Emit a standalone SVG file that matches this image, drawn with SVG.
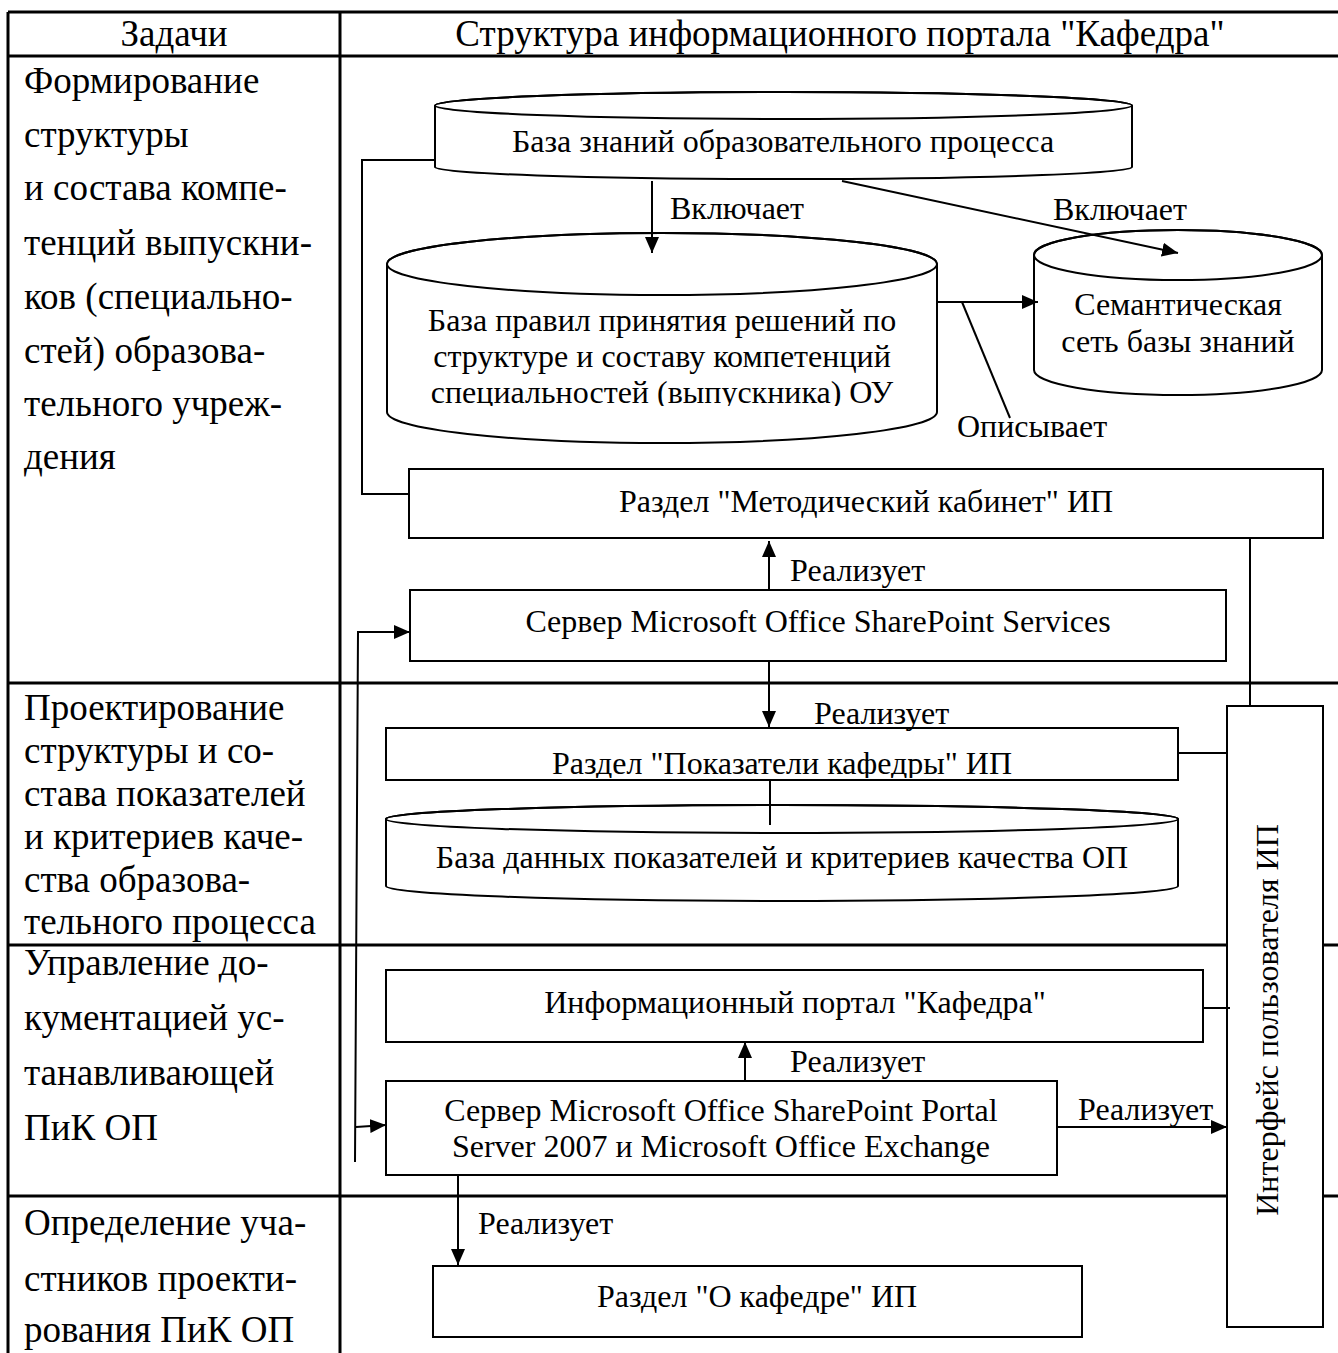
<svg xmlns="http://www.w3.org/2000/svg" width="1338" height="1353" viewBox="0 0 1338 1353">
<defs>
<style>
text{font-family:"Liberation Serif","Times New Roman",serif;fill:#000}
.h{font-size:37px}
.hc{font-size:37px;text-anchor:middle}
.n{font-size:32px;text-anchor:middle}
.l{font-size:32px}
.grid{stroke:#000;stroke-width:3;fill:none}
.box{fill:#fff;stroke:#000;stroke-width:2}
.top{fill:none;stroke:#000;stroke-width:2}
.c{stroke:#000;stroke-width:2;fill:none}
.a{marker-end:url(#ah)}
</style>
<marker id="ah" markerUnits="userSpaceOnUse" markerWidth="16" markerHeight="14" refX="16" refY="7" orient="auto"><path d="M0,0 L16,7 L0,14 Z" fill="#000"/></marker>
<clipPath id="clipRules"><rect x="387" y="300" width="550" height="106"/></clipPath>
<clipPath id="clipPokaz"><rect x="386" y="729" width="792" height="49"/></clipPath>
</defs>
<rect width="1338" height="1353" fill="#fff"/>
<g id="table">
<path class="grid" d="M8,12 H1338 M8,56 H1338 M8,683 H1338 M8,945 H1338 M8,1196 H1338 M8,12 V1353 M340,12 V1353"/>
<text class="hc" x="174" y="46">Задачи</text>
<text class="hc" x="840" y="46">Структура информационного портала "Кафедра"</text>
<text class="h" x="24" y="93">Формирование</text>
<text class="h" x="24" y="147">структуры</text>
<text class="h" x="24" y="200">и состава компе-</text>
<text class="h" x="24" y="255">тенций выпускни-</text>
<text class="h" x="24" y="309">ков (специально-</text>
<text class="h" x="24" y="363">стей) образова-</text>
<text class="h" x="24" y="416">тельного учреж-</text>
<text class="h" x="24" y="469">дения</text>
<text class="h" x="24" y="720">Проектирование</text>
<text class="h" x="24" y="763">структуры и со-</text>
<text class="h" x="24" y="806">става показателей</text>
<text class="h" x="24" y="849">и критериев каче-</text>
<text class="h" x="24" y="892">ства образова-</text>
<text class="h" x="24" y="934">тельного процесса</text>
<text class="h" x="24" y="975">Управление до-</text>
<text class="h" x="24" y="1030">кументацией ус-</text>
<text class="h" x="24" y="1085">танавливающей</text>
<text class="h" x="24" y="1140">ПиК ОП</text>
<text class="h" x="24" y="1235">Определение уча-</text>
<text class="h" x="24" y="1291">стников проекти-</text>
<text class="h" x="24" y="1342">рования ПиК ОП</text>
</g>
<g id="kb">
<path class="box" d="M435,105.5 A348.5,13.5 0 0 1 1132,105.5 V167 A348.5,12 0 0 1 435,167 Z"/>
<ellipse class="top" cx="783.5" cy="105.5" rx="348.5" ry="13.5"/>
<text class="n" x="783" y="152">База знаний образовательного процесса</text>
</g>
<g id="rules">
<path class="box" d="M387,264 A275,31 0 0 1 937,264 V412 A275,31 0 0 1 387,412 Z"/>
<ellipse class="top" cx="662" cy="264" rx="275" ry="31"/>
<g clip-path="url(#clipRules)">
<text class="n" x="662" y="331">База правил принятия решений по</text>
<text class="n" x="662" y="367">структуре и составу компетенций</text>
<text class="n" x="662" y="403">специальностей (выпускника) ОУ</text>
</g>
</g>
<g id="semnet">
<path class="box" d="M1034,255 A144,25 0 0 1 1322,255 V370 A144,25 0 0 1 1034,370 Z"/>
<ellipse class="top" cx="1178" cy="255" rx="144" ry="25"/>
<text class="n" x="1178" y="315">Семантическая</text>
<text class="n" x="1178" y="352">сеть базы знаний</text>
</g>
<g id="metod">
<rect class="box" x="409" y="469" width="914" height="69"/>
<text class="n" x="866" y="512">Раздел "Методический кабинет" ИП</text>
</g>
<g id="services">
<rect class="box" x="410" y="590" width="816" height="71"/>
<text class="n" x="818" y="632">Сервер Microsoft Office SharePoint Services</text>
</g>
<g id="pokaz">
<rect class="box" x="386" y="728" width="792" height="52"/>
<text class="n" x="782" y="774" clip-path="url(#clipPokaz)">Раздел "Показатели кафедры" ИП</text>
</g>
<g id="db">
<path class="box" d="M386,819 A396,14 0 0 1 1178,819 V886 A396,15 0 0 1 386,886 Z"/>
<ellipse class="top" cx="782" cy="819" rx="396" ry="14"/>
<text class="n" x="782" y="868">База данных показателей и критериев качества ОП</text>
</g>
<g id="portal">
<rect class="box" x="386" y="970" width="817" height="72"/>
<text class="n" x="795" y="1013">Информационный портал "Кафедра"</text>
</g>
<g id="server2">
<rect class="box" x="386" y="1081" width="671" height="94"/>
<text class="n" x="721" y="1121">Сервер Microsoft Office SharePoint Portal</text>
<text class="n" x="721" y="1157">Server 2007 и Microsoft Office Exchange</text>
</g>
<g id="okaf">
<rect class="box" x="433" y="1266" width="649" height="71"/>
<text class="n" x="757" y="1307">Раздел "О кафедре" ИП</text>
</g>
<g id="iface">
<rect class="box" x="1227" y="706" width="96" height="621"/>
<text class="n" transform="translate(1278,1020) rotate(-90)">Интерфейс пользователя ИП</text>
</g>
<g id="connectors">
<path class="c" d="M435,160 H362 V494 H409"/>
<path class="c a" d="M652,181 V253"/>
<path class="c a" d="M842,181 L1178,253"/>
<path class="c a" d="M937,302 H1038"/>
<path class="c" d="M962,302 L1010,418"/>
<path class="c a" d="M769,590 V541"/>
<path class="c a" d="M355,1162 L358,632 H410"/>
<path class="c a" d="M356,1127 L386,1125"/>
<path class="c a" d="M769,661 V727"/>
<path class="c" d="M770,780 V825"/>
<path class="c" d="M1178,753 H1227"/>
<path class="c" d="M1250,538 V706"/>
<path class="c" d="M1203,1008 H1230"/>
<path class="c a" d="M745,1081 V1042"/>
<path class="c a" d="M1057,1127 H1227"/>
<path class="c a" d="M458,1175 V1265"/>
</g>
<g id="labels">
<text class="l" x="670" y="219">Включает</text>
<text class="l" x="1053" y="220">Включает</text>
<text class="l" x="957" y="437">Описывает</text>
<text class="l" x="790" y="581">Реализует</text>
<text class="l" x="814" y="724">Реализует</text>
<text class="l" x="790" y="1072">Реализует</text>
<text class="l" x="1078" y="1120">Реализует</text>
<text class="l" x="478" y="1234">Реализует</text>
</g>
</svg>
